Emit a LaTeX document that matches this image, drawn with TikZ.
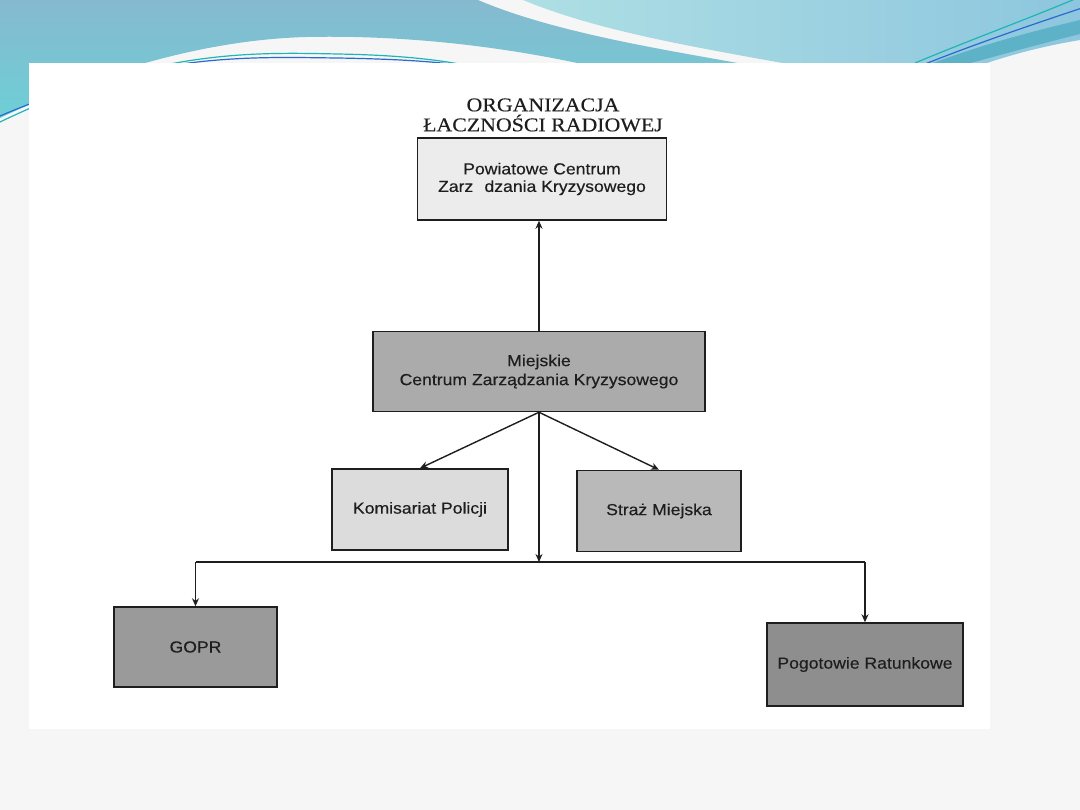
\documentclass[tikz,border=0pt]{standalone}
\usepackage{fontspec}
\usetikzlibrary{arrows.meta}
\newfontfamily\boxfont[FakeStretch=1.1,FakeBold=0.3]{Liberation Sans}
\newfontfamily\titlefont[FakeStretch=1.12,FakeBold=0.3]{Liberation Serif}
\definecolor{bgc}{HTML}{F6F6F6}
\definecolor{blueTop}{HTML}{86B9CF}
\definecolor{blueBot}{HTML}{6DCFD6}
\definecolor{lightL}{HTML}{AEDFE4}
\definecolor{lightR}{HTML}{8DC6DE}
\definecolor{darkband}{HTML}{5DB2C8}
\definecolor{tealline}{HTML}{1FB5B8}
\definecolor{blueline}{HTML}{2A6ACF}
\definecolor{inkc}{HTML}{1E1E1E}
\definecolor{fPow}{HTML}{ECECEC}
\definecolor{fMie}{HTML}{ABABAB}
\definecolor{fKom}{HTML}{DCDCDC}
\definecolor{fStr}{HTML}{B9B9B9}
\definecolor{fGop}{HTML}{9A9A9A}
\definecolor{fPog}{HTML}{8E8E8E}
\tikzset{
  orgbox/.style={draw=inkc, line width=1.5pt, inner sep=0pt, align=center,
    text=inkc, font=\boxfont\fontsize{16}{17.5}\selectfont},
  arr/.style={draw=inkc, line width=1.4pt, -{Stealth[length=8pt,width=7pt]}},
  link/.style={draw=inkc, line width=1.4pt}
}
\begin{document}
\begin{tikzpicture}[x=1pt,y=-1pt]
\useasboundingbox (0,0) rectangle (1080,810);
% slide background
\fill[bgc] (0,0) rectangle (1080,810);
% left blue wave
\shade[top color=blueTop, bottom color=blueBot]
  (0,0) -- (478,0) .. controls (560,35) and (680,52) .. (765,68)
  -- (600,68) .. controls (500,45) and (400,35) .. (306,37)
  .. controls (200,40) and (90,75) .. (0,118) -- cycle;
% right lighter wave
\shade[left color=lightL, right color=lightR]
  (523,0) .. controls (600,32) and (700,48) .. (810,68)
  -- (990,68) -- (987,63) .. controls (1020,52) and (1050,45) .. (1080,40)
  -- (1080,0) -- cycle;
\fill[darkband] (925,66) .. controls (980,45) and (1030,32) .. (1080,20)
  -- (1080,34) .. controls (1040,44) and (1000,55) .. (960,66) -- cycle;
% thin lines
\draw[tealline, line width=1.2pt] (0,122) .. controls (150,50) and (250,52) .. (337,54)
  .. controls (400,55) and (440,60) .. (470,66);
\draw[blueline, line width=1.2pt] (0,116) .. controls (150,52) and (250,57) .. (337,58)
  .. controls (400,59) and (440,62) .. (465,66);
\draw[tealline, line width=1.2pt] (915,63) .. controls (970,40) and (1030,18) .. (1075,-1);
\draw[blueline, line width=1.2pt] (920,66) .. controls (980,42) and (1040,22) .. (1082,8);
% white sheet
\fill[white] (29,63) rectangle (990,729);
% title
\node[align=center, text=inkc, font=\titlefont\fontsize{19.5}{20}\selectfont]
  (title) at (543,115) {ORGANIZACJA\\ŁACZNOŚCI RADIOWEJ};
% boxes
\node[orgbox, fill=fPow, minimum width=249pt, minimum height=82pt] (pcz) at (542,179)
  {Powiatowe Centrum\\Zarz\hspace{0.7em}dzania Kryzysowego};
\node[orgbox, fill=fMie, minimum width=332pt, minimum height=80pt,
  font=\boxfont\fontsize{16}{19}\selectfont] (mcz) at (539,371.5)
  {Miejskie\\Centrum Zarządzania Kryzysowego};
\node[orgbox, fill=fKom, minimum width=176pt, minimum height=81pt] (kp) at (420,509.5)
  {Komisariat Policji};
\node[orgbox, fill=fStr, minimum width=164pt, minimum height=81pt] (sm) at (659,511)
  {Straż Miejska};
\node[orgbox, fill=fGop, minimum width=163pt, minimum height=80pt] (gopr) at (195.5,647)
  {GOPR};
\node[orgbox, fill=fPog, minimum width=196pt, minimum height=83pt] (pr) at (865,664.5)
  {Pogotowie Ratunkowe};
% connectors
\coordinate (j) at (539,562);
\coordinate (hl) at (gopr.north |- j);
\coordinate (hr) at (pr.north |- j);
\draw[arr] (mcz.north) -- (mcz.north |- pcz.south);
\draw[arr] (mcz.south) -- (kp.north);
\draw[arr] (mcz.south) -- (sm.north);
\draw[arr] (mcz.south) -- (j);
\draw[link] (hl) -- (hr);
\draw[arr] (hl) -- (gopr.north);
\draw[arr] (hr) -- (pr.north);
\end{tikzpicture}
\end{document}
